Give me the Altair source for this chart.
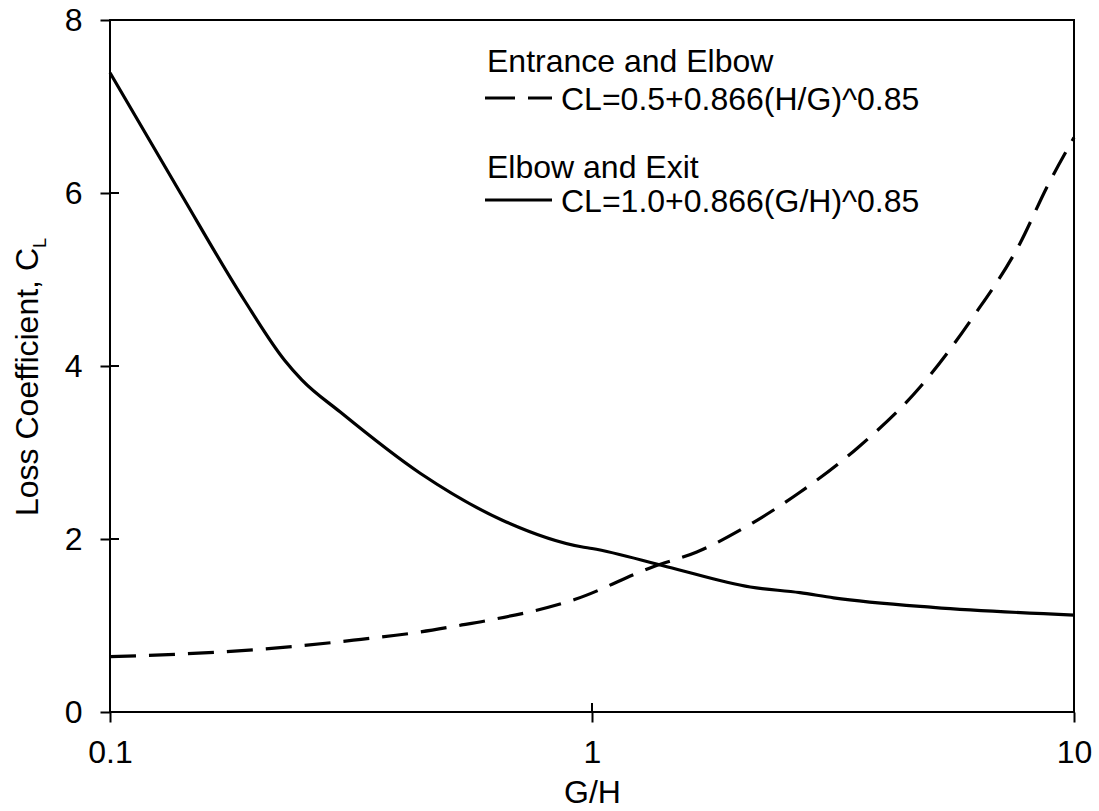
import altair as alt
import pandas as pd

# Curve samples: G/H ratio and loss coefficient C_L
exit_gh = [0.1, 0.14, 0.19, 0.23, 0.25, 0.30, 0.44, 0.65, 0.95, 1.0,
           1.43, 2.13, 2.7, 3.17, 5.1, 10]
exit_cl = [7.39, 6.00, 4.76, 4.07, 3.84, 3.47, 2.76, 2.22, 1.91, 1.89,
           1.68, 1.445, 1.38, 1.32, 1.21, 1.12]

entrance_gh = [0.1, 0.14, 0.21, 0.32, 0.44, 0.53, 0.61, 0.92, 1.34, 1.65,
               2.16, 2.7, 3.55, 4.8, 6.18, 7.73, 8.79, 10]
entrance_cl = [0.64, 0.67, 0.73, 0.83, 0.925, 1.0, 1.06, 1.30, 1.68, 1.85,
               2.19, 2.54, 3.05, 3.76, 4.57, 5.42, 6.07, 6.64]

x_ticks = [0.1, 1, 10]
y_ticks = [0, 2, 4, 6, 8]

legend_groups = ["Entrance and Elbow", "Elbow and Exit"]
legend_labels = ["CL=0.5+0.866(H/G)^0.85", "CL=1.0+0.866(G/H)^0.85"]
y_title = "Loss Coefficient, C"
y_title_sub = "L"
x_title = "G/H"

FONT = "Liberation Sans"
FS = 32
W, H = 964, 692

df_exit = pd.DataFrame({"gh": exit_gh, "cl": exit_cl})
df_ent = pd.DataFrame({"gh": entrance_gh, "cl": entrance_cl})

xs = alt.Scale(type="log", domain=[0.1, 10], nice=False)
ys = alt.Scale(domain=[0, 8], nice=False)

x_axis = alt.Axis(values=x_ticks, format="~g", title=x_title, grid=False,
                  domain=False, tickSize=10, tickWidth=2, tickColor="black",
                  labelFont=FONT, labelFontSize=FS, labelColor="black",
                  labelFlush=False, labelPadding=15,
                  titleFont=FONT, titleFontSize=FS,
                  titleFontWeight="normal", titleColor="black", titlePadding=9)
y_axis = alt.Axis(values=y_ticks, title=None, grid=False, domain=False,
                  tickSize=10, tickWidth=2, tickColor="black",
                  labelFont=FONT, labelFontSize=FS, labelColor="black",
                  labelFlush=False, labelPadding=18)

X = alt.X("gh:Q", scale=xs, axis=x_axis)
Y = alt.Y("cl:Q", scale=ys, axis=y_axis)

exit_line = alt.Chart(df_exit).mark_line(
    color="black", strokeWidth=3.2, interpolate="monotone").encode(x=X, y=Y)
ent_line = alt.Chart(df_ent).mark_line(
    color="black", strokeWidth=3.2, strokeDash=[26, 13],
    interpolate="monotone").encode(x=X, y=Y)

# inner halves of the crossing tick marks
y_in = alt.Chart(pd.DataFrame({"cl": y_ticks})).mark_rule(
    color="black", strokeWidth=2).encode(
    y=Y, x=alt.value(0), x2=alt.value(9))
x_in = alt.Chart(pd.DataFrame({"gh": x_ticks})).mark_rule(
    color="black", strokeWidth=2).encode(
    x=X, y=alt.value(H - 9), y2=alt.value(H))

one = pd.DataFrame({"k": [0]})


def label(text, x, y, size=FS, angle=0, align="left", baseline="alphabetic"):
    return alt.Chart(pd.DataFrame({"t": [text]})).mark_text(
        font=FONT, fontSize=size, color="black", align=align,
        baseline=baseline, angle=angle).encode(
        text="t:N", x=alt.value(x), y=alt.value(y))


def sample(x1, x2, y, dash=None):
    kw = dict(color="black", strokeWidth=3.2)
    if dash:
        kw["strokeDash"] = dash
    return alt.Chart(one).mark_rule(**kw).encode(
        x=alt.value(x1), x2=alt.value(x2), y=alt.value(y))


legend = (
    label(legend_groups[0], 377, 52)
    + sample(375, 442, 78, dash=[30, 13])
    + label(legend_labels[0], 451, 90)
    + label(legend_groups[1], 377, 158)
    + sample(375, 442, 180)
    + label(legend_labels[1], 451, 192)
)

ytitle = (
    label(y_title, -72, 228, angle=270, align="right")
    + label(y_title_sub, -64, 228, size=18, angle=270, align="left")
)

chart = alt.layer(
    exit_line, ent_line, y_in, x_in, legend, ytitle
).properties(
    width=W, height=H,
    autosize=alt.AutoSizeParams(type="none"),
    padding={"left": 110, "top": 20, "right": 25, "bottom": 99},
    background="white",
).configure_view(stroke="black", strokeWidth=2)

chart.save("out.html", embed_options={"renderer": "svg", "actions": False})
